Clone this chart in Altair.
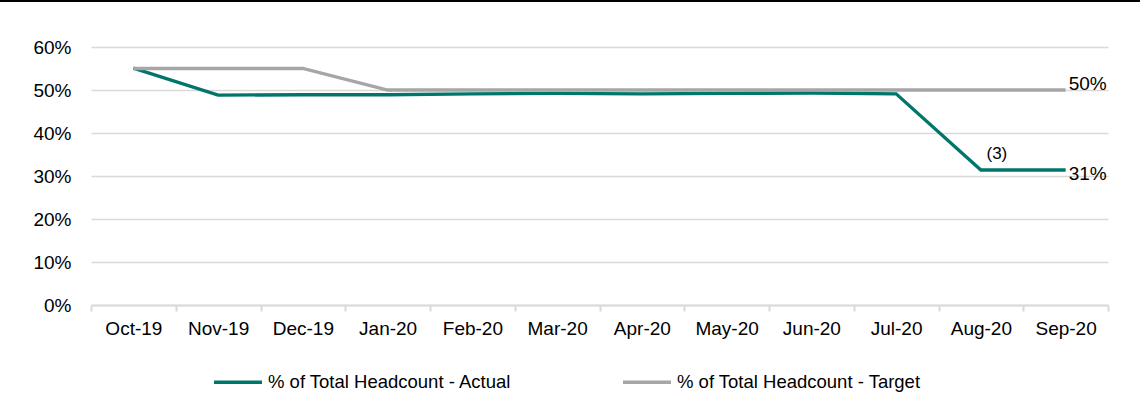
import altair as alt
import pandas as pd

months = ["Oct-19", "Nov-19", "Dec-19", "Jan-20", "Feb-20", "Mar-20",
          "Apr-20", "May-20", "Jun-20", "Jul-20", "Aug-20", "Sep-20"]
actual = [0.551, 0.488, 0.489, 0.489, 0.491, 0.492, 0.491, 0.492, 0.493, 0.491, 0.314, 0.314]
target = [0.55, 0.55, 0.55, 0.50, 0.50, 0.50, 0.50, 0.50, 0.50, 0.50, 0.50, 0.50]
series_names = ["% of Total Headcount - Actual", "% of Total Headcount - Target"]
series_colors = ["#00766B", "#A6A6A6"]
end_label_actual = "31%"
end_label_target = "50%"
note_month = "Aug-20"
note_text = "(3)"

rows = []
for i, m in enumerate(months):
    rows.append({"month": m, "series": series_names[0], "value": actual[i], "order": 1})
    rows.append({"month": m, "series": series_names[1], "value": target[i], "order": 0})
df = pd.DataFrame(rows)

end_actual = pd.DataFrame({"month": [months[-1]], "value": [actual[-1]], "label": [end_label_actual]})
end_target = pd.DataFrame({"month": [months[-1]], "value": [target[-1]], "label": [end_label_target]})
note = pd.DataFrame({"month": [note_month], "value": [actual[months.index(note_month)]], "label": [note_text]})

FONT = "Liberation Sans"
FS = 19

x = alt.X("month:N", sort=months, title=None,
          axis=alt.Axis(labelAngle=0, labelFontSize=FS, labelColor="#000000", labelFont=FONT,
                        domainColor="#D9D9D9", domainWidth=2, tickColor="#D9D9D9", tickWidth=2,
                        tickSize=6, tickBand="extent", labelPadding=8, grid=False),
          scale=alt.Scale(paddingInner=0, paddingOuter=0))
y = alt.Y("value:Q", title=None,
          scale=alt.Scale(domain=[0, 0.6], nice=False),
          axis=alt.Axis(format=".0%", values=[0, 0.1, 0.2, 0.3, 0.4, 0.5, 0.6],
                        labelFontSize=FS, labelColor="#000000", labelFont=FONT,
                        domain=False, ticks=False, gridColor="#D9D9D9", gridWidth=1.5,
                        labelPadding=20))

lines = alt.Chart(df).mark_line(strokeWidth=3.3, strokeCap="butt").encode(
    x=x, y=y,
    color=alt.Color("series:N", sort=series_names,
                    scale=alt.Scale(domain=series_names, range=series_colors),
                    legend=alt.Legend(title=None, orient="none", direction="horizontal",
                                      legendX=121, legendY=309, symbolType="stroke",
                                      symbolSize=2304, symbolStrokeWidth=3.3,
                                      labelFontSize=18.5, labelFont=FONT, labelColor="#000000",
                                      labelOffset=4, labelLimit=0, columnPadding=104)),
    order=alt.Order("order:Q"),
    detail="series:N",
)

txt = dict(align="left", baseline="middle", dx=3, fontSize=FS, font=FONT, color="#000000")
end_t = alt.Chart(end_target).mark_text(dy=-6, **txt).encode(
    x=alt.X("month:N", sort=months), y="value:Q", text="label:N")
end_a = alt.Chart(end_actual).mark_text(dy=4, **txt).encode(
    x=alt.X("month:N", sort=months), y="value:Q", text="label:N")

note_mark = alt.Chart(note).mark_text(align="center", baseline="middle", dy=-16, dx=16,
                                      fontSize=17, font=FONT, color="#000000").encode(
    x=alt.X("month:N", sort=months), y="value:Q", text="label:N")

top_rule = alt.Chart(pd.DataFrame({"a": [0]})).mark_rule(color="#000000", strokeWidth=2).encode(
    x=alt.value(-95), x2=alt.value(1060), y=alt.value(-46))

chart = alt.layer(lines, end_t, end_a, note_mark, top_rule).properties(
    width=1017, height=258,
    background="#FFFFFF",
    autosize=alt.AutoSizeParams(type="none"),
    padding={"left": 91, "top": 47, "right": 32, "bottom": 89},
).configure_view(stroke=None)

chart.save("out.html", embed_options={"renderer": "svg", "actions": False})
